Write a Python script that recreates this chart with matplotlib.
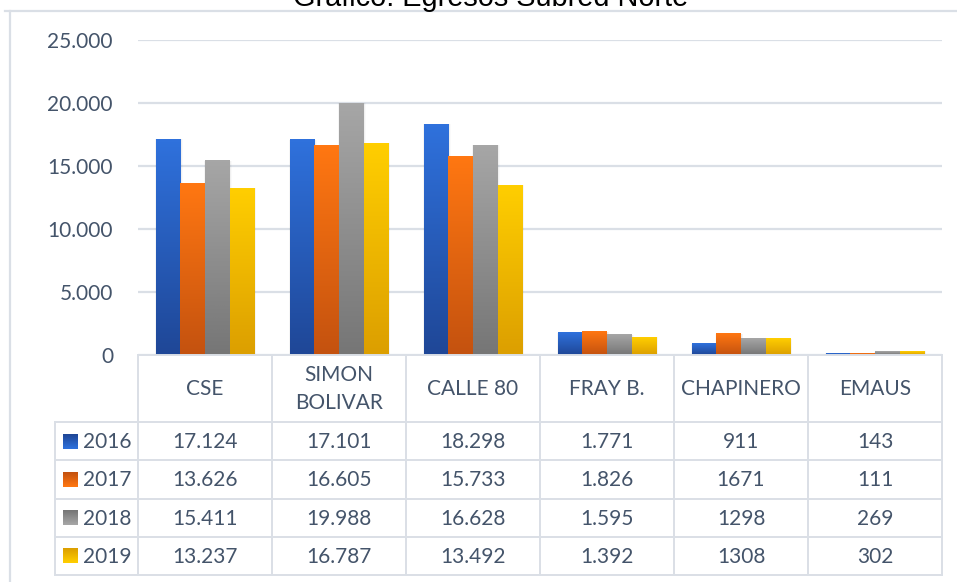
import numpy as np
import matplotlib
matplotlib.use('Agg')
import matplotlib.pyplot as plt
from matplotlib.colors import LinearSegmentedColormap
from matplotlib.patches import Rectangle

# Egresos por sede, Subred Norte
categories = ['CSE', 'SIMON\nBOLIVAR', 'CALLE 80', 'FRAY B.', 'CHAPINERO', 'EMAUS']
years = ['2016', '2017', '2018', '2019']
v2016 = [17124, 17101, 18298, 1771, 911, 143]
v2017 = [13626, 16605, 15733, 1826, 1671, 111]
v2018 = [15411, 19988, 16628, 1595, 1298, 269]
v2019 = [13237, 16787, 13492, 1392, 1308, 302]
series = [v2016, v2017, v2018, v2019]
# CHAPINERO column is written without thousands separator
use_sep = [True, True, True, True, False, False]
y_ticks = [0, 5000, 10000, 15000, 20000, 25000]
y_labels = ['0', '5.000', '10.000', '15.000', '20.000', '25.000']

# gradient (top, bottom) per year
grads = [('#2f71dc', '#1f4797'),
         ('#ff7712', '#c4520f'),
         ('#a6a6a6', '#767676'),
         ('#ffce00', '#dc9f00')]

txt_color = '#44546a'
line_color = '#dadfe6'
W, H = 957, 582


def fmt(v, sep):
    if sep and v >= 1000:
        return '{:,}'.format(v).replace(',', '.')
    return str(v)


fig = plt.figure(figsize=(W / 100, H / 100), dpi=100)
fig.patch.set_facecolor('white')

# plot area in pixel terms: x 138..942, y 40..355
ax = fig.add_axes([138 / W, 1 - 355 / H, (942 - 138) / W, (355 - 40) / H])
for s in ax.spines.values():
    s.set_visible(False)
ax.set_xticks([])
ax.set_yticks(y_ticks)
ax.set_yticklabels(y_labels, fontfamily='Lato', fontsize=15, color=txt_color)
ax.tick_params(axis='y', length=0, pad=18)
ax.yaxis.grid(True, color=line_color, linewidth=1.6)
ax.set_axisbelow(True)

w = 0.183
for i, vals in enumerate(series):
    cmap = LinearSegmentedColormap.from_list('g%d' % i, [grads[i][1], grads[i][0]])
    grad = np.linspace(0, 1, 64).reshape(-1, 1)
    for j, v in enumerate(vals):
        x0 = j + 0.5 + (i - 1.5) * w - w / 2
        # soft shadow on the sides
        for k in range(1, 5):
            ax.add_patch(Rectangle((x0 - 0.003 * k + 0.004, 0), w + 0.006 * k, v,
                                   facecolor='black', alpha=0.018, linewidth=0, zorder=2))
        ax.imshow(grad, cmap=cmap, origin='lower', aspect='auto',
                  extent=[x0, x0 + w, 0, v], interpolation='bilinear', zorder=3)
ax.set_xlim(0, 6)
ax.set_ylim(0, 25000)

# overlay in pixel coordinates for table, border and title
tax = fig.add_axes([0, 0, 1, 1])
tax.axis('off')
tax.patch.set_alpha(0)

# outer chart border
tax.plot([10, 10], [11, H], color=line_color, lw=1.6)
tax.plot([5, W], [11, 11], color=line_color, lw=1.6)

cols = np.linspace(138, 942, 7)
rows = np.linspace(422, 575, 5)
lw = 1.4
tax.plot([138, 942], [355, 355], color=line_color, lw=lw)
for y in rows:
    tax.plot([55, 942], [y, y], color=line_color, lw=lw)
for x in cols:
    tax.plot([x, x], [355, 575], color=line_color, lw=lw)
tax.plot([55, 55], [422, 575], color=line_color, lw=lw)

for j, name in enumerate(categories):
    cx = (cols[j] + cols[j + 1]) / 2
    tax.text(cx, 389, name, ha='center', va='center', fontfamily='Lato',
             fontsize=15, color=txt_color, linespacing=1.5)

for i, vals in enumerate(series):
    cy = (rows[i] + rows[i + 1]) / 2
    # legend key with gradient
    cmap = LinearSegmentedColormap.from_list('k%d' % i, [grads[i][1], grads[i][0]])
    tax.imshow(np.linspace(0, 1, 16).reshape(-1, 1), cmap=cmap, origin='upper',
               extent=[63, 78, cy + 7.5, cy - 7.5], aspect='auto', zorder=3)
    tax.text(83, cy + 1, years[i], ha='left', va='center', fontfamily='Lato',
             fontsize=15, color=txt_color)
    for j, v in enumerate(vals):
        cx = (cols[j] + cols[j + 1]) / 2
        tax.text(cx, cy + 1, fmt(v, use_sep[j]), ha='center', va='center',
                 fontfamily='Lato', fontsize=15, color=txt_color)
tax.set_xlim(0, W)
tax.set_ylim(H, 0)

tax.text(491, 6, 'Gráfico: Egresos Subred Norte', ha='center', va='baseline',
         fontfamily='Liberation Sans', fontsize=20.8, color='black')

fig.savefig('out.png', dpi=100)
